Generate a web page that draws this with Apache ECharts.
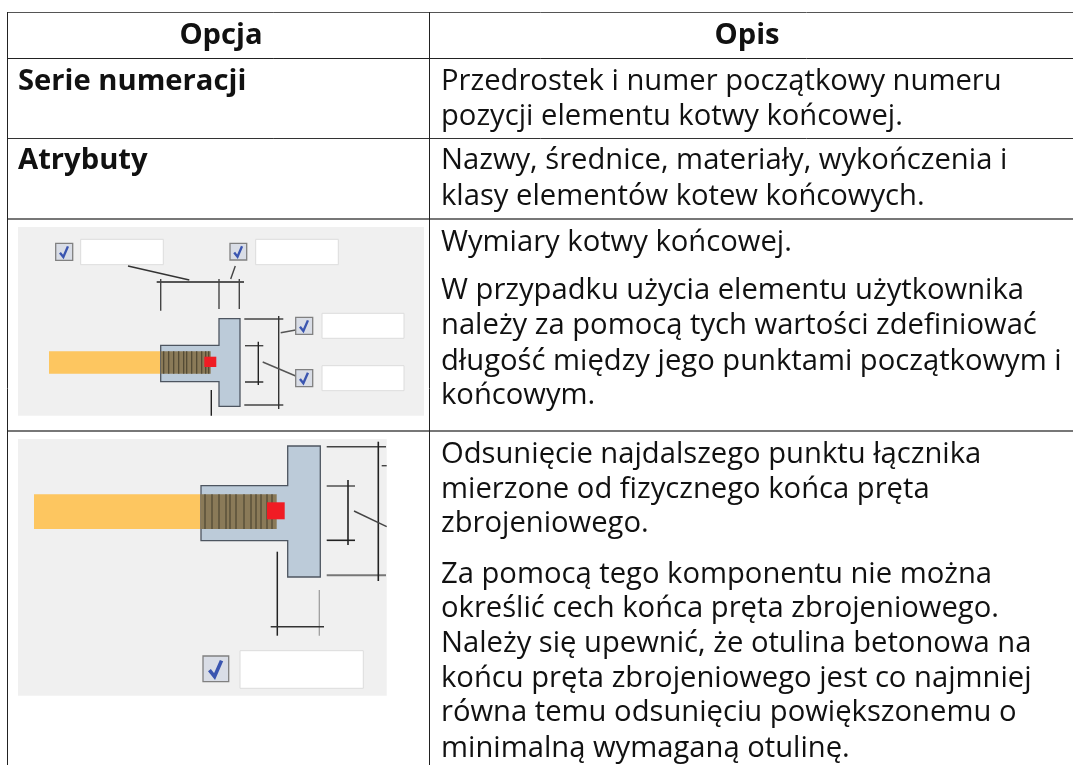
<!DOCTYPE html>
<html><head><meta charset="utf-8">
<style>html,body{margin:0;padding:0;background:#fff}#c{width:1073px;height:765px}</style>
<script src="https://cdn.jsdelivr.net/npm/echarts@6/dist/echarts.min.js"></script></head>
<body><div id="c"></div>
<script>
const headers = ['Opcja', 'Opis'];
const optionLabels = ['Serie numeracji', 'Atrybuty'];
const rowTexts = [
 [89,'Przedrostek i numer początkowy numeru'],
 [124,'pozycji elementu kotwy końcowej.'],
 [168,'Nazwy, średnice, materiały, wykończenia i'],
 [204,'klasy elementów kotew końcowych.'],
 [250,'Wymiary kotwy końcowej.'],
 [298,'W przypadku użycia elementu użytkownika'],
 [333,'należy za pomocą tych wartości zdefiniować'],
 [369,'długość między jego punktami początkowym i'],
 [403,'końcowym.'],
 [462,'Odsunięcie najdalszego punktu łącznika'],
 [497,'mierzone od fizycznego końca pręta'],
 [531,'zbrojeniowego.'],
 [582,'Za pomocą tego komponentu nie można'],
 [616,'określić cech końca pręta zbrojeniowego.'],
 [651,'Należy się upewnić, że otulina betonowa na'],
 [686,'końcu pręta zbrojeniowego jest co najmniej'],
 [720,'równa temu odsunięciu powiększonemu o'],
 [756,'minimalną wymaganą otulinę.']
];
const F = '"Open Sans"';
const g = [];
const rect=(x,y,w,h,fill,stroke,lw)=>g.push({type:'rect',shape:{x,y,width:w,height:h},style:{fill,stroke:stroke||null,lineWidth:lw||0}});
const line=(x1,y1,x2,y2,c,w)=>g.push({type:'line',shape:{x1,y1,x2,y2},style:{stroke:c||'#222',lineWidth:w||1.4}});
const text=(x,y,t,bold,align)=>g.push({type:'text',x,y:y-7,style:{text:t,fill:'#111',font:(bold?'bold ':'')+'29.2px '+F,textAlign:align||'left',textVerticalAlign:'middle'}});
const check=(x,y,s)=>{
  rect(x,y,s,s,'#d9dde6','#808080',1.3);
  g.push({type:'polyline',shape:{points:[[x+s*.25,y+s*.55],[x+s*.45,y+s*.8],[x+s*.72,y+s*.18]]},style:{fill:null,stroke:'#3a55b0',lineWidth:s*.14}});
};
const input=(x,y,w,h)=>rect(x,y,w,h,'#fff','#dcdcdc',1);
const tee=(sx,fx,fr,st,sb,ft,fb)=>g.push({type:'polygon',shape:{points:[[sx,st],[fx,st],[fx,ft],[fr,ft],[fr,fb],[fx,fb],[fx,sb],[sx,sb]]},style:{fill:'#bccbd9',stroke:'#4d5560',lineWidth:1.3}});
const thread=(x0,x1,y0,y1,stripes)=>{
  rect(x0,y0,x1-x0,y1-y0,'#8a7a58');
  stripes.forEach(d=>line(x0+d,y0,x0+d,y1,'#4e4632',1.2));
};

// diagram 1
rect(18,227,406,188.7,'#f0f0f0');
input(80.7,239.3,82.6,25.4);check(55.7,243.3,17);
input(255.7,239.3,82.6,25.4);check(230,243.3,16.7);
line(128,266,189.3,280,'#333');line(235.3,266,230.7,279,'#444');
line(156.7,282,244,282,'#222');
line(160.7,279,160.7,310.7,'#444');line(219,279,219,309,'#444');line(239.3,279,239.3,309,'#444');
rect(49,351.3,112,22.4,'#fdc660');
tee(160.7,219,240,345.3,381.7,318.7,406.3);
thread(160.7,210.7,351.3,373.7,[3,8,13,18,23,26,31,36,41,45,48]);
rect(204.3,356.7,12,10.3,'#f01c24');
line(244.3,319,283.3,319,'#444');line(244.3,405,283.3,405,'#444');line(278.7,316,278.7,409,'#333');
line(245,345.7,263.3,345.7,'#444');line(245,382,263.3,382,'#222');line(258.3,341.7,258.3,385,'#222');
line(280.7,332.7,295.7,330,'#555');line(262.7,362,295.7,376,'#555');
check(295.7,317.3,17);input(322,313.3,82,25);
check(295.7,369.7,17);input(322,365.7,82,25);
line(211.3,390,211.3,415.7,'#222');

// diagram 2
rect(18,439,368.7,256.7,'#f0f0f0');
rect(34,494.3,167,34.7,'#fdc660');
tee(201,287.7,320.3,485.7,540.7,446,577);
thread(201,276.7,494.3,529,[4,11,18,25,29,35,43,50,55,60,66,71]);
rect(267,502.3,17.7,17,'#f01c24');
line(326.7,446.7,386,446.7,'#444',1.6);line(326.7,575.3,386,575.3,'#777',2);line(378.3,441.7,378.3,581,'#222',1.6);
line(381.7,465.7,386.7,465.7,'#444');
line(326.7,486,355,486,'#444');line(326.7,540.3,355,540.3,'#222',1.6);line(348,480,348,545,'#222',1.6);
line(354,511,386.7,526.7,'#444');
line(277.3,551.7,277.3,635.7,'#222',1.5);line(319.3,590,319.3,635.7,'#999',1.2);line(270.7,626.7,324,626.7,'#333',1.4);
check(203,656,25.7);input(240,650.7,123.3,37.6);

// table
line(7.5,12.5,1073,12.5,'#555',1);
line(7.5,58.5,1073,58.5,'#222',1);
line(7.5,138.5,1073,138.5,'#333',1);
line(7.5,219,1073,219,'#777',2);
line(7.5,431,1073,431,'#777',2);
line(7.5,12,7.5,765,'#222',1);
line(429.5,12,429.5,765,'#222',1);

text(221,42.5,headers[0],true,'center');
text(747,42.5,headers[1],true,'center');
text(18,89,optionLabels[0],true);
text(18,168,optionLabels[1],true);
rowTexts.forEach(r=>text(441,r[0],r[1]));

const chart=echarts.init(document.getElementById('c'),null,{renderer:'canvas'});
chart.setOption({animation:false,graphic:{elements:g}});
</script></body></html>
